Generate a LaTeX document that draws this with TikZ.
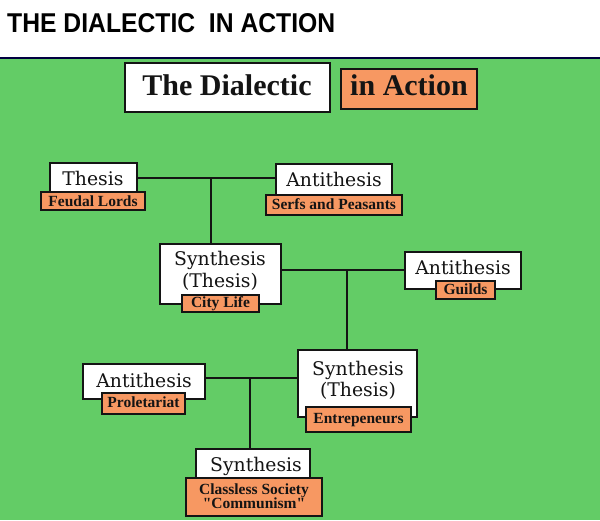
\documentclass[tikz,border=0pt]{standalone}
\usepackage{fontspec}
\setmainfont{Liberation Serif}
\newfontfamily\boxfont{DejaVu Serif}
\newfontfamily\titlefont{Liberation Sans}
\newfontfamily\quotefont{Liberation Serif}[Ligatures=TeXOff]
\definecolor{bggreen}{HTML}{63CC66}
\definecolor{orng}{HTML}{F79862}
\definecolor{linec}{HTML}{141414}
\newcommand\mkbox[6]{\node[#1, minimum width={#5-#3}, minimum height={#6-#4}] (#2) at ({(#3+#5)/2},{(#4+#6)/2}) {};}
\begin{document}
\begin{tikzpicture}[x=1pt,y=-1pt,
  wbox/.style={rectangle, draw=linec, line width=2pt, fill=white, inner sep=0pt},
  obox/.style={rectangle, draw=linec, line width=2pt, fill=orng, inner sep=0pt},
  wtxt/.style={inner sep=0pt, anchor=base, text=linec, font=\boxfont\fontsize{18.8}{21}\selectfont},
  otxt/.style={inner sep=0pt, anchor=base, text=linec, font=\bfseries\fontsize{15.5}{17}\selectfont},
  bigtxt/.style={inner sep=0pt, anchor=base, text=linec, font=\bfseries\fontsize{30}{32}\selectfont},
  conn/.style={draw=linec, line width=2pt}]
\useasboundingbox (0,0) rectangle (600,520);
\fill[white] (0,0) rectangle (600,520);
\fill[bggreen] (0,58) rectangle (600,520);
\draw[line width=1.5pt, draw=black!75!blue] (0,58) -- (600,58);

% page title
\node[anchor=base west, inner sep=0pt] (title) at (7,32)
  {\resizebox{328pt}{19pt}{\titlefont\bfseries THE DIALECTIC\ \ IN ACTION}};

% heading boxes
\mkbox{wbox}{hd1}{125}{63}{330}{112}
\mkbox{obox}{hd2}{341}{69}{477}{109}
\node[bigtxt] (hd1t) at (227,95) {The Dialectic};
\node[bigtxt] (hd2t) at (409,95) {in Action};

% boxes
\mkbox{wbox}{t1}{50}{163}{137}{192}
\mkbox{obox}{t1l}{41}{192}{145}{210}
\mkbox{wbox}{a1}{276}{164}{392}{195}
\mkbox{obox}{a1l}{266}{195}{402}{215}
\mkbox{wbox}{s1}{160}{244}{281}{304}
\mkbox{obox}{s1l}{182}{295}{259}{312}
\mkbox{wbox}{a2}{405}{252}{521}{289}
\mkbox{obox}{a2l}{436}{281}{495}{299}
\mkbox{wbox}{s2}{298}{350}{417}{417}
\mkbox{obox}{s2l}{306}{407}{411}{432}
\mkbox{wbox}{a3}{83}{364}{205}{399}
\mkbox{obox}{a3l}{102}{393}{185}{414}
\mkbox{wbox}{s3}{196}{449}{310}{478}
\mkbox{obox}{s3l}{186}{478}{322}{516}

% texts
\node[wtxt] (t1t) at (93,185) {Thesis};
\node[otxt] (t1lt) at (93,206) {Feudal Lords};
\node[wtxt] (a1t) at (334,186) {Antithesis};
\node[otxt] (a1lt) at (334,209) {Serfs and Peasants};
\node[wtxt] (s1ta) at (220,265) {Synthesis};
\node[wtxt] (s1tb) at (220,287) {(Thesis)};
\node[otxt] (s1lt) at (220.5,307) {City Life};
\node[wtxt] (a2t) at (463,274) {Antithesis};
\node[otxt] (a2lt) at (465.5,294) {Guilds};
\node[wtxt] (s2ta) at (358,375) {Synthesis};
\node[wtxt] (s2tb) at (358,396) {(Thesis)};
\node[otxt] (s2lt) at (358.5,423) {Entrepeneurs};
\node[wtxt] (a3t) at (144,387) {Antithesis};
\node[otxt] (a3lt) at (143.5,407) {Proletariat};
\node[wtxt] (s3t) at (256,471) {Synthesis};
\node[otxt] (s3lta) at (254,494) {Classless Society};
\node[otxt, font=\quotefont\bfseries\fontsize{15.5}{17}\selectfont] (s3ltb) at (254,508) {"Communism"};

% connectors
\coordinate (j1) at (211,178);
\coordinate (j2) at (347,270);
\coordinate (j3) at (250,378);
\draw[conn] (t1.east |- j1) -- (a1.west |- j1);
\draw[conn] (j1) -- (j1 |- s1.north);
\draw[conn] (s1.east |- j2) -- (a2.west |- j2);
\draw[conn] (j2) -- (j2 |- s2.north);
\draw[conn] (a3.east |- j3) -- (s2.west |- j3);
\draw[conn] (j3) -- (j3 |- s3.north);
\end{tikzpicture}
\end{document}
